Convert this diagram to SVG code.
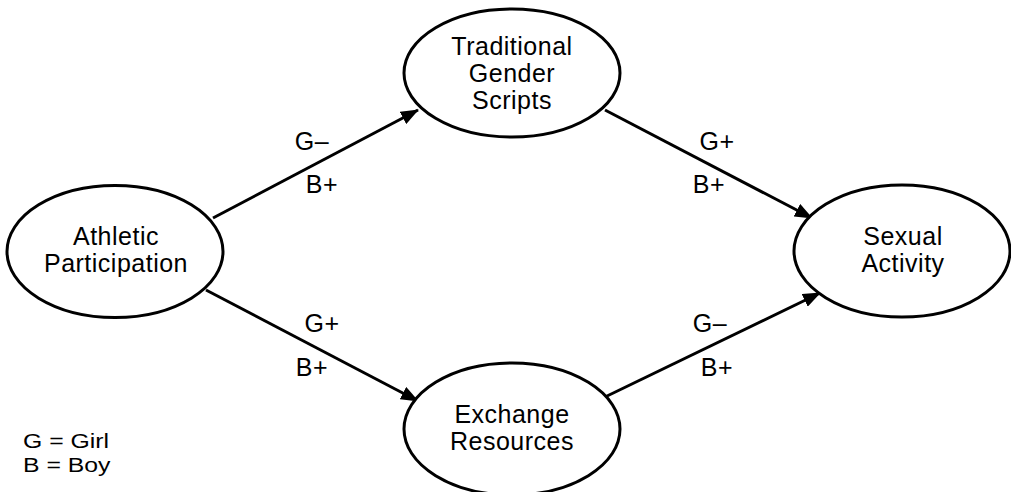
<svg xmlns="http://www.w3.org/2000/svg" width="1011" height="492" viewBox="0 0 1011 492">
<style>
.node ellipse{fill:#fff;stroke:#000;stroke-width:3}
text{font-family:"Liberation Sans",Arial,sans-serif;font-size:25px;fill:#000;letter-spacing:0.5px}
.c{text-anchor:middle}
.leg{font-size:21px;letter-spacing:0}
.edge{stroke:#000;stroke-width:3;fill:none;marker-end:url(#arr)}
</style>
<defs>
<marker id="arr" markerUnits="userSpaceOnUse" markerWidth="18" markerHeight="14" refX="17" refY="7" orient="auto">
<path d="M0,0 L18,7 L0,14 Z" fill="#000"/>
</marker>
</defs>
<rect width="1011" height="492" fill="#fff"/>
<g id="connectors">
<line class="edge" x1="213" y1="218" x2="418" y2="110"/>
<line class="edge" x1="605" y1="110" x2="812" y2="218"/>
<line class="edge" x1="206" y1="290" x2="418" y2="401"/>
<line class="edge" x1="605" y1="397" x2="820" y2="293"/>
<text x="312" y="150" class="c">G–</text>
<text x="322" y="193" class="c">B+</text>
<text x="717" y="150" class="c">G+</text>
<text x="709" y="193" class="c">B+</text>
<text x="322" y="332" class="c">G+</text>
<text x="312" y="376" class="c">B+</text>
<text x="710" y="332" class="c">G–</text>
<text x="717" y="376" class="c">B+</text>
</g>
<g id="athletic" class="node">
<ellipse cx="115" cy="251.5" rx="108" ry="66"/>
<text x="116" y="245" class="c">Athletic</text>
<text x="116" y="272" class="c">Participation</text>
</g>
<g id="traditional" class="node">
<ellipse cx="512" cy="73" rx="108" ry="64"/>
<text x="512" y="55" class="c">Traditional</text>
<text x="512" y="82" class="c">Gender</text>
<text x="512" y="109" class="c">Scripts</text>
</g>
<g id="sexual" class="node">
<ellipse cx="902" cy="251" rx="108" ry="66"/>
<text x="903" y="245" class="c">Sexual</text>
<text x="903" y="272" class="c">Activity</text>
</g>
<g id="exchange" class="node">
<ellipse cx="512" cy="429" rx="108" ry="66"/>
<text x="512" y="423" class="c">Exchange</text>
<text x="512" y="450" class="c">Resources</text>
</g>
<g id="legend" transform="scale(1.18,1)">
<text x="19.5" y="448" class="leg">G = Girl</text>
<text x="19.5" y="472" class="leg">B = Boy</text>
</g>
</svg>
